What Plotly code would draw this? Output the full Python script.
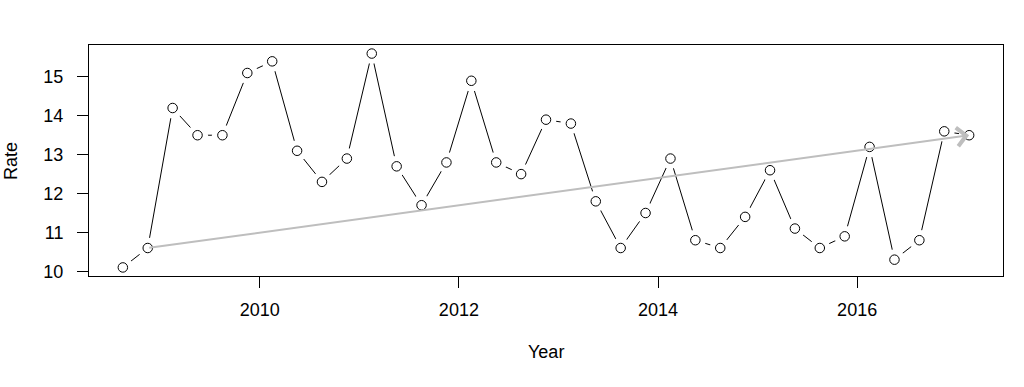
import plotly.graph_objects as go

# Quarterly observations, starting 2008.625
start_year = 2008.625
step = 0.25
rate = [10.1, 10.6, 14.2, 13.5, 13.5, 15.1, 15.4, 13.1, 12.3, 12.9,
        15.6, 12.7, 11.7, 12.8, 14.9, 12.8, 12.5, 13.9, 13.8, 11.8,
        10.6, 11.5, 12.9, 10.8, 10.6, 11.4, 12.6, 11.1, 10.6, 10.9,
        13.2, 10.3, 10.8, 13.6, 13.5]
year = [start_year + step * i for i in range(len(rate))]

x_ticks = [2010, 2012, 2014, 2016]
y_ticks = [10, 11, 12, 13, 14, 15]

# R-style 4% axis extension
def ext(lo, hi):
    d = (hi - lo) * 0.04
    return [lo - d, hi + d]

xr = ext(min(year), max(year))
yr = ext(min(rate), max(rate))

FONT = "Liberation Sans, Arial, Helvetica, sans-serif"

fig = go.Figure()
# connecting line
fig.add_trace(go.Scatter(x=year, y=rate, mode="lines",
                         line=dict(color="black", width=1), hoverinfo="skip",
                         showlegend=False))
# white masks to create type="b" gaps
fig.add_trace(go.Scatter(x=year, y=rate, mode="markers",
                         marker=dict(symbol="circle", size=21, color="white",
                                     line=dict(width=0)),
                         hoverinfo="skip", showlegend=False))
# open circles
fig.add_trace(go.Scatter(x=year, y=rate, mode="markers",
                         marker=dict(symbol="circle", size=9.5, color="white",
                                     line=dict(color="black", width=1)),
                         showlegend=False))

# grey trend arrow from 2nd point to last point
fig.add_annotation(x=year[-1], y=rate[-1], ax=year[1], ay=rate[1],
                   xref="x", yref="y", axref="x", ayref="y",
                   text="", showarrow=True, arrowhead=4, arrowsize=1.8,
                   arrowwidth=2, arrowcolor="#BEBEBE", standoff=0,
                   startstandoff=0)

# axis titles
fig.add_annotation(text="Year", xref="paper", yref="paper", x=0.5, y=-0.328,
                   xanchor="center", yanchor="middle", showarrow=False,
                   font=dict(family=FONT, size=18, color="black"))
fig.add_annotation(text="Rate", xref="paper", yref="paper", x=-0.086, y=0.5,
                   xanchor="center", yanchor="middle", showarrow=False,
                   textangle=-90,
                   font=dict(family=FONT, size=18, color="black"))

fig.update_layout(
    width=1024, height=387,
    margin=dict(l=89, r=21, t=45, b=111, pad=0),
    plot_bgcolor="white", paper_bgcolor="white",
    font=dict(family=FONT, size=18, color="black"),
    xaxis=dict(range=xr, tickvals=x_ticks, ticktext=[str(v) for v in x_ticks],
               showgrid=False, zeroline=False, showline=True, mirror=True,
               linecolor="black", linewidth=1, ticks="outside", ticklen=11,
               tickcolor="black", tickwidth=1, ticklabelstandoff=6,
               tickfont=dict(family=FONT, size=18, color="black")),
    yaxis=dict(range=yr, tickvals=y_ticks, ticktext=[str(v) for v in y_ticks],
               showgrid=False, zeroline=False, showline=True, mirror=True,
               linecolor="black", linewidth=1, ticks="outside", ticklen=11,
               tickcolor="black", tickwidth=1, ticklabelstandoff=10,
               tickfont=dict(family=FONT, size=18, color="black")),
)

fig.write_html("out.html", config={"displayModeBar": False},
               post_script="document.body.style.margin='0';document.body.style.overflow='hidden';")
